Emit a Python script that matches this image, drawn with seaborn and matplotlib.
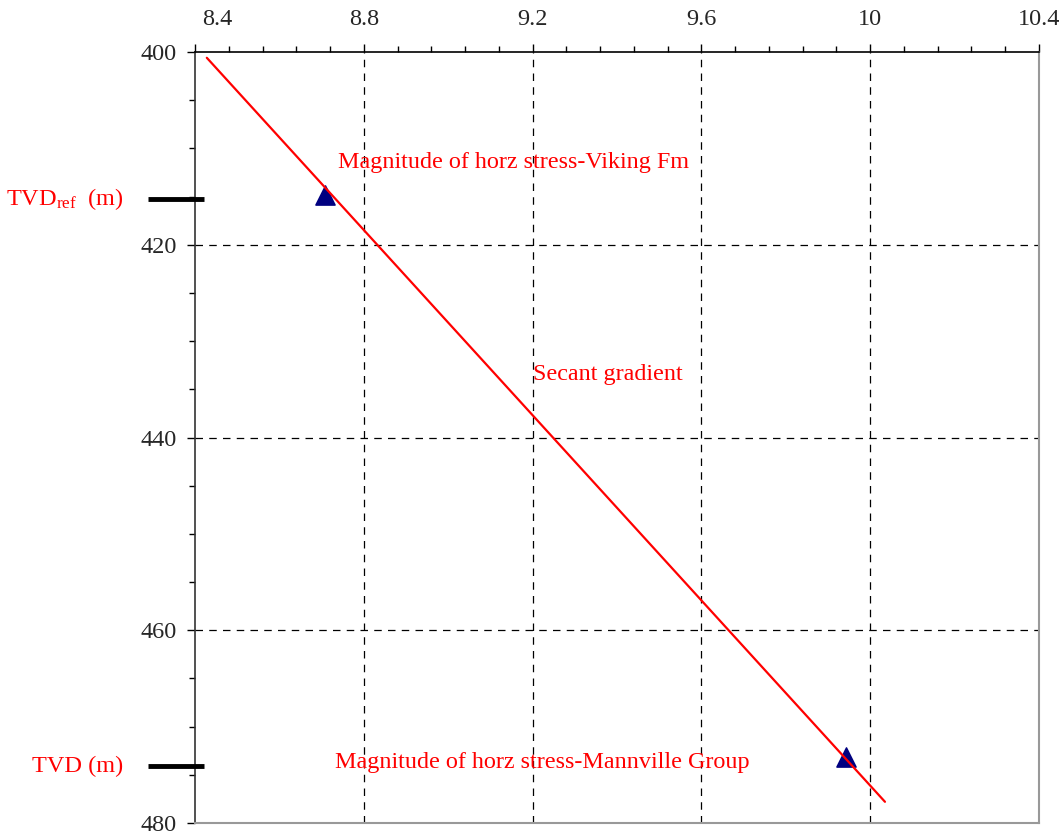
import matplotlib
matplotlib.use("Agg")
import matplotlib.pyplot as plt
import matplotlib.transforms as mtransforms
from matplotlib.ticker import MultipleLocator
import seaborn as sns
import pandas as pd

# Data
line_x = [8.428, 10.035]
line_y = [400.6, 477.8]
point_x = [8.708, 9.943]
point_y = [414.8, 473.1]
ref_depths = [415.3, 474.1]
ref_labels = [r"TVD$_{\mathrm{ref}}$  (m)", "TVD (m)"]
annotations = [
    ("Magnitude of horz stress-Viking Fm", 8.739, 412.0),
    ("Secant gradient", 9.201, 434.0),
    ("Magnitude of horz stress-Mannville Group", 8.732, 474.3),
]
x_ticks = [8.4, 8.8, 9.2, 9.6, 10.0, 10.4]
x_tick_labels = ["8.4", "8.8", "9.2", "9.6", "10", "10.4"]
y_ticks = [400, 420, 440, 460, 480]

sns.set_theme(style="white")
plt.rcParams["font.family"] = ["Liberation Serif", "DejaVu Serif"]
plt.rcParams["mathtext.fontset"] = "custom"
plt.rcParams["mathtext.rm"] = "Liberation Serif"
plt.rcParams["mathtext.it"] = "Liberation Serif:italic"

fig = plt.figure(figsize=(10.64, 8.33), dpi=100)
ax = fig.add_axes([195/1064, 1 - 823/833, (1039 - 195)/1064, (823 - 52)/833])

line_df = pd.DataFrame({"x": line_x, "y": line_y})
pt_df = pd.DataFrame({"x": point_x, "y": point_y})
sns.lineplot(data=line_df, x="x", y="y", ax=ax, color="red", linewidth=1.6, sort=False, zorder=3)
sns.scatterplot(data=pt_df, x="x", y="y", ax=ax, marker="^", s=190, color="#000080",
                edgecolor="#000080", zorder=2)

ax.set_xlim(8.4, 10.4)
ax.set_ylim(480, 400)
ax.xaxis.tick_top()
ax.set_xticks(x_ticks)
ax.set_xticklabels(x_tick_labels)
ax.set_yticks(y_ticks)
ax.xaxis.set_minor_locator(MultipleLocator(0.08))
ax.yaxis.set_minor_locator(MultipleLocator(5))
ax.set_xlabel("")
ax.set_ylabel("")

ax.tick_params(axis="x", which="major", top=True, bottom=False, direction="out",
               length=6, width=1, labelsize=17.5, pad=10, color="black")
ax.tick_params(axis="x", which="minor", top=True, bottom=False, direction="out",
               length=4, width=1, color="black")
ax.tick_params(axis="y", which="major", left=True, direction="out", length=6, width=1,
               labelsize=17.5, pad=7, color="black")
ax.tick_params(axis="y", which="minor", left=True, direction="out", length=4, width=1,
               color="black")

# first x label is nudged right in the reference
first = ax.get_xticklabels()[0]
first.set_transform(first.get_transform() + mtransforms.ScaledTranslation(22/100, 0, fig.dpi_scale_trans))

for t in x_ticks[1:-1]:
    ax.axvline(t, color="black", linestyle=(0, (6, 5)), linewidth=0.9, zorder=1)
for t in y_ticks[1:-1]:
    ax.axhline(t, color="black", linestyle=(0, (6, 5)), linewidth=0.9, zorder=1)

ax.spines["top"].set_color("black")
ax.spines["top"].set_linewidth(1.2)
ax.spines["left"].set_color("#333333")
ax.spines["left"].set_linewidth(1.2)
ax.spines["right"].set_color("#999999")
ax.spines["bottom"].set_color("#999999")
ax.spines["right"].set_linewidth(1.5)
ax.spines["bottom"].set_linewidth(1.5)

for txt, xx, yy in annotations:
    ax.text(xx, yy, txt, color="red", fontsize=17.4, ha="left", va="baseline")

trans = mtransforms.blended_transform_factory(fig.transFigure, ax.transData)
for d, lab in zip(ref_depths, ref_labels):
    ax.plot([148/1064, 204/1064], [d, d], transform=trans, color="black",
            linewidth=3.5, clip_on=False, solid_capstyle="butt", zorder=5)
    ax.text(123/1064, d, lab, transform=trans, color="red", fontsize=17.5,
            ha="right", va="center")

fig.savefig("out.png", dpi=100)
